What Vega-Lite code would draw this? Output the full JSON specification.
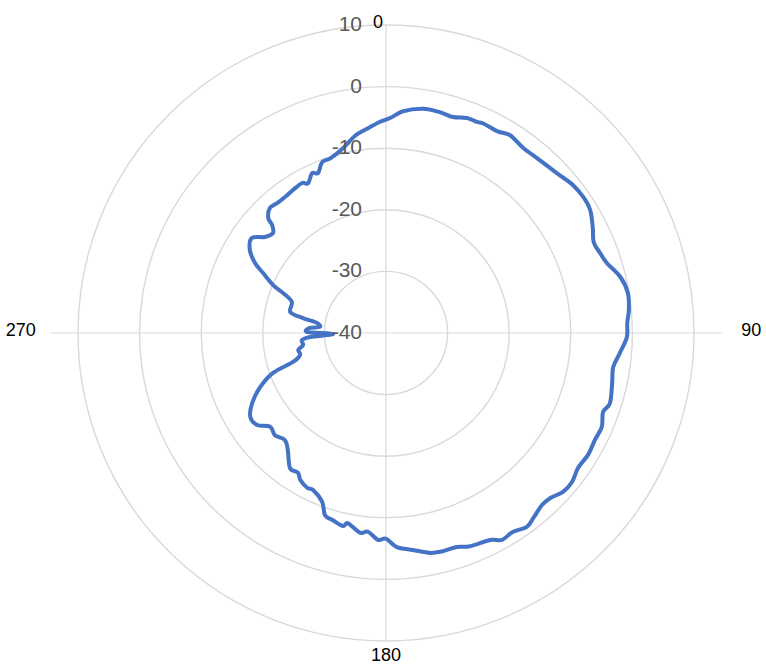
{
  "$schema": "https://vega.github.io/schema/vega-lite/v6.json",
  "width": 616,
  "height": 616,
  "autosize": "none",
  "padding": {"left": 78, "top": 25, "right": 72, "bottom": 29},
  "background": "white",
  "config": {"view": {"stroke": null}},
  "datasets": {
    "pattern": [
      {"deg": 1.1, "v": -5.1}, {"deg": 4.4, "v": -3.9}, {"deg": 9.4, "v": -3.1}, {"deg": 13.7, "v": -3.1},
      {"deg": 17.2, "v": -3.3}, {"deg": 20.6, "v": -2.7}, {"deg": 23.3, "v": -2.7}, {"deg": 24.8, "v": -2.5},
      {"deg": 28.8, "v": -2.6}, {"deg": 32.1, "v": -2.1}, {"deg": 36.5, "v": -2.6}, {"deg": 40.8, "v": -2.5},
      {"deg": 44.0, "v": -2.3}, {"deg": 47.8, "v": -1.9}, {"deg": 51.6, "v": -1.3}, {"deg": 55.4, "v": -1.1},
      {"deg": 58.9, "v": -1.3}, {"deg": 62.9, "v": -2.3}, {"deg": 66.4, "v": -3.2}, {"deg": 69.5, "v": -2.9},
      {"deg": 72.4, "v": -2.4}, {"deg": 76.5, "v": -0.9}, {"deg": 80.6, "v": -0.2}, {"deg": 84.6, "v": -0.4},
      {"deg": 87.6, "v": -0.8}, {"deg": 91.0, "v": -0.9}, {"deg": 94.9, "v": -1.9}, {"deg": 98.5, "v": -2.7},
      {"deg": 102.5, "v": -2.4}, {"deg": 107.4, "v": -1.9}, {"deg": 110.0, "v": -2.5}, {"deg": 113.5, "v": -1.8},
      {"deg": 117.1, "v": -1.9}, {"deg": 121.1, "v": -1.7}, {"deg": 125.1, "v": -1.9}, {"deg": 128.7, "v": -1.3},
      {"deg": 131.9, "v": -1.4}, {"deg": 135.2, "v": -2.2}, {"deg": 137.8, "v": -2.3}, {"deg": 141.5, "v": -1.6},
      {"deg": 144.0, "v": -1.1}, {"deg": 147.5, "v": -1.7}, {"deg": 150.7, "v": -1.5}, {"deg": 153.3, "v": -2.4},
      {"deg": 158.5, "v": -2.8}, {"deg": 161.7, "v": -3.4}, {"deg": 165.4, "v": -3.4}, {"deg": 168.7, "v": -3.6},
      {"deg": 172.9, "v": -4.5}, {"deg": 177.1, "v": -5.2}, {"deg": 180.0, "v": -6.6}, {"deg": 182.2, "v": -6.4},
      {"deg": 185.2, "v": -7.6}, {"deg": 187.4, "v": -7.3}, {"deg": 191.3, "v": -8.5}, {"deg": 192.6, "v": -7.9},
      {"deg": 195.8, "v": -8.4}, {"deg": 198.5, "v": -8.8}, {"deg": 200.7, "v": -10.7}, {"deg": 204.9, "v": -11.9},
      {"deg": 207.0, "v": -11.8}, {"deg": 210.3, "v": -12.4}, {"deg": 212.2, "v": -13.2}, {"deg": 215.4, "v": -13.1},
      {"deg": 220.0, "v": -15.2}, {"deg": 223.4, "v": -16.1}, {"deg": 227.4, "v": -15.5}, {"deg": 231.0, "v": -15.8},
      {"deg": 234.5, "v": -14.3}, {"deg": 238.3, "v": -14.1}, {"deg": 242.4, "v": -15.5}, {"deg": 246.8, "v": -17.8},
      {"deg": 250.5, "v": -20.5}, {"deg": 252.7, "v": -24.2}, {"deg": 255.7, "v": -25.6}, {"deg": 259.1, "v": -25.5},
      {"deg": 261.8, "v": -26.4}, {"deg": 265.2, "v": -26.3}, {"deg": 267.0, "v": -27.7}, {"deg": 268.9, "v": -31.4},
      {"deg": 270.7, "v": -27.2}, {"deg": 273.8, "v": -27.6}, {"deg": 275.2, "v": -29.2}, {"deg": 278.3, "v": -28.7},
      {"deg": 280.2, "v": -26.3}, {"deg": 282.3, "v": -24.1}, {"deg": 288.3, "v": -23.9}, {"deg": 291.2, "v": -22.1},
      {"deg": 293.0, "v": -20.1}, {"deg": 296.0, "v": -17.8}, {"deg": 298.1, "v": -15.9}, {"deg": 301.4, "v": -14.1},
      {"deg": 305.3, "v": -13.3}, {"deg": 308.4, "v": -14.9}, {"deg": 311.5, "v": -15.5}, {"deg": 313.5, "v": -14.5},
      {"deg": 314.3, "v": -13.3}, {"deg": 317.1, "v": -12.3}, {"deg": 320.0, "v": -12.5}, {"deg": 323.4, "v": -12.5},
      {"deg": 327.0, "v": -12.3}, {"deg": 330.8, "v": -12.1}, {"deg": 332.5, "v": -12.6}, {"deg": 335.2, "v": -11.4},
      {"deg": 337.0, "v": -11.8}, {"deg": 339.5, "v": -10.4}, {"deg": 342.6, "v": -10.2}, {"deg": 346.9, "v": -9.2},
      {"deg": 351.1, "v": -7.6}, {"deg": 354.7, "v": -6.7}, {"deg": 358.4, "v": -5.7}
    ],
    "rings": [{"level": -30}, {"level": -20}, {"level": -10}, {"level": 0}, {"level": 10}],
    "ringLabels": [{"level": -40}, {"level": -30}, {"level": -20}, {"level": -10}, {"level": 0}, {"level": 10}],
    "directions": [{"deg": 0, "label": "0"}, {"deg": 90, "label": "90"}, {"deg": 180, "label": "180"}, {"deg": 270, "label": "270"}]
  },
  "layer": [
    {
      "data": {"name": "rings"},
      "transform": [{"calculate": "datum.level + 40", "as": "r"}],
      "mark": {"type": "point", "shape": "circle", "filled": false, "stroke": "#d9d9d9", "strokeWidth": 1.4, "opacity": 1},
      "encoding": {
        "x": {"datum": 0, "type": "quantitative", "scale": {"domain": [-50, 50], "nice": false, "zero": false}, "axis": null},
        "y": {"datum": 0, "type": "quantitative", "scale": {"domain": [-50, 50], "nice": false, "zero": false}, "axis": null},
        "size": {"field": "r", "type": "quantitative", "scale": {"type": "pow", "exponent": 2, "domain": [0, 50], "range": [0, 379456], "zero": true, "nice": false}, "legend": null}
      }
    },
    {
      "data": {"name": "directions"},
      "transform": [
        {"calculate": "datum.deg == 90 || datum.deg == 270 ? 54.5 : 50", "as": "len"},
        {"calculate": "datum.len * sin(datum.deg * PI / 180)", "as": "ex"},
        {"calculate": "datum.len * cos(datum.deg * PI / 180)", "as": "ey"},
        {"calculate": "0", "as": "zero"}
      ],
      "mark": {"type": "rule", "stroke": "#d9d9d9", "strokeWidth": 1.2},
      "encoding": {
        "x": {"field": "zero", "type": "quantitative"},
        "y": {"field": "zero", "type": "quantitative"},
        "x2": {"field": "ex"},
        "y2": {"field": "ey"}
      }
    },
    {
      "data": {"name": "pattern"},
      "transform": [
        {"calculate": "(datum.v + 40) * sin(datum.deg * PI / 180)", "as": "px"},
        {"calculate": "(datum.v + 40) * cos(datum.deg * PI / 180)", "as": "py"}
      ],
      "mark": {"type": "line", "interpolate": "cardinal-closed", "color": "#4472c4", "strokeWidth": 4, "strokeJoin": "round"},
      "encoding": {
        "x": {"field": "px", "type": "quantitative"},
        "y": {"field": "py", "type": "quantitative"},
        "order": {"field": "deg", "type": "quantitative"}
      }
    },
    {
      "data": {"name": "ringLabels"},
      "transform": [{"calculate": "datum.level + 40", "as": "r"}, {"calculate": "0", "as": "zero"}],
      "mark": {"type": "text", "align": "right", "baseline": "middle", "dx": -24, "font": "Liberation Sans", "fontSize": 21, "color": "#595959"},
      "encoding": {
        "x": {"field": "zero", "type": "quantitative"},
        "y": {"field": "r", "type": "quantitative"},
        "text": {"field": "level", "type": "nominal"}
      }
    },
    {
      "data": {"name": "directions"},
      "transform": [
        {"calculate": "59.3 * sin(datum.deg * PI / 180) - (datum.deg == 0 ? 1.3 : 0)", "as": "lx"},
        {"calculate": "datum.deg == 0 ? 50.3 : (datum.deg == 180 ? -52.4 : 0.4)", "as": "ly"}
      ],
      "mark": {"type": "text", "align": "center", "baseline": "middle", "font": "Liberation Sans", "fontSize": 18, "color": "#000000"},
      "encoding": {
        "x": {"field": "lx", "type": "quantitative"},
        "y": {"field": "ly", "type": "quantitative"},
        "text": {"field": "label", "type": "nominal"}
      }
    }
  ]
}
